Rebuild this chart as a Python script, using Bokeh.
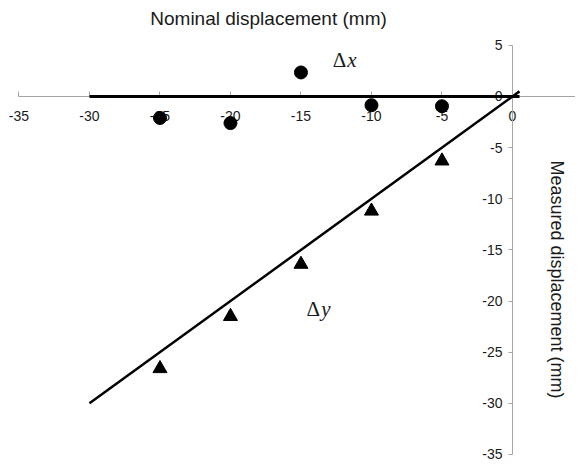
import numpy as np
from bokeh.plotting import figure
from bokeh.models import LinearAxis, FixedTicker, Range1d, Label
from bokeh.embed import file_html
from bokeh.resources import INLINE

# ---- data ----
nominal = [-25, -20, -15, -10, -5]
delta_x = [-2.1, -2.6, 2.35, -0.85, -0.95]
delta_y = [-26.6, -21.5, -16.4, -11.2, -6.3]

fit_x = [-30, 0.5]
fit_dx = [0, 0]
fit_dy = [-30, 0.5]

x_ticks = [-35, -30, -25, -20, -15, -10, -5, 0, 5]
y_ticks = [5, 0, -5, -10, -15, -20, -25, -30, -35]

x_title = "Nominal displacement (mm)"
y_title = "Measured displacement (mm)"

p = figure(width=575, height=463, output_backend="svg", toolbar_location=None,
           x_range=Range1d(-36.31, 4.47), y_range=Range1d(-35.88, 9.385),
           x_axis_location=None, y_axis_location=None, min_border=0,
           outline_line_color=None, background_fill_color="white",
           border_fill_color="white")
p.center = []

axis_gray = "#a6a6a6"
label_color = "#1a1a1a"

xaxis = LinearAxis(fixed_location=0, ticker=FixedTicker(ticks=x_ticks), bounds=(-35, 5),
                   axis_line_color=axis_gray, major_tick_line_color=axis_gray,
                   major_tick_in=5, major_tick_out=0, minor_tick_line_color=None,
                   major_label_text_font="Liberation Sans", major_label_text_font_size="14px",
                   major_label_text_color=label_color, major_label_standoff=15,
                   major_label_overrides={t: str(t) for t in x_ticks},
                   level="underlay")
p.add_layout(xaxis, "below")

yaxis = LinearAxis(fixed_location=0, ticker=FixedTicker(ticks=y_ticks), bounds=(-35, 5),
                   axis_line_color=axis_gray, major_tick_line_color=axis_gray,
                   major_tick_in=0, major_tick_out=4, minor_tick_line_color=None,
                   major_label_text_font="Liberation Sans", major_label_text_font_size="14px",
                   major_label_text_color=label_color, major_label_standoff=6,
                   major_label_overrides={t: str(t) for t in y_ticks},
                   level="underlay")
p.add_layout(yaxis, "left")

p.line(fit_x, fit_dx, line_width=3, color="black")
p.line(fit_x, fit_dy, line_width=2.5, color="black")
p.scatter(nominal, delta_x, marker="circle", size=13, color="black")
p.scatter(nominal, delta_y, marker="triangle", size=14, color="black")

p.add_layout(Label(x=-17.3, y=7.6, text=x_title, text_font="Liberation Sans",
                   text_font_size="19px", text_align="center", text_baseline="alphabetic",
                   text_color=label_color))
p.add_layout(Label(x=3.19, y=-17.89, text=y_title, text_font="Liberation Sans",
                   text_font_size="18px", text_align="center", text_baseline="middle",
                   angle=-np.pi / 2, text_color=label_color))

serif = "Liberation Serif"
p.add_layout(Label(x=-12.75, y=3.59, text="Δ", text_font=serif, text_font_size="21px",
                   text_align="left", text_baseline="alphabetic", text_color=label_color))
p.add_layout(Label(x=-11.72, y=3.59, text="x", text_font=serif, text_font_size="21px",
                   text_font_style="italic", text_align="left", text_baseline="alphabetic",
                   text_color=label_color))
p.add_layout(Label(x=-14.6, y=-20.73, text="Δ", text_font=serif, text_font_size="21px",
                   text_align="left", text_baseline="alphabetic", text_color=label_color))
p.add_layout(Label(x=-13.57, y=-20.73, text="y", text_font=serif, text_font_size="21px",
                   text_font_style="italic", text_align="left", text_baseline="alphabetic",
                   text_color=label_color))

open("out.html", "w").write(file_html(p, INLINE))
